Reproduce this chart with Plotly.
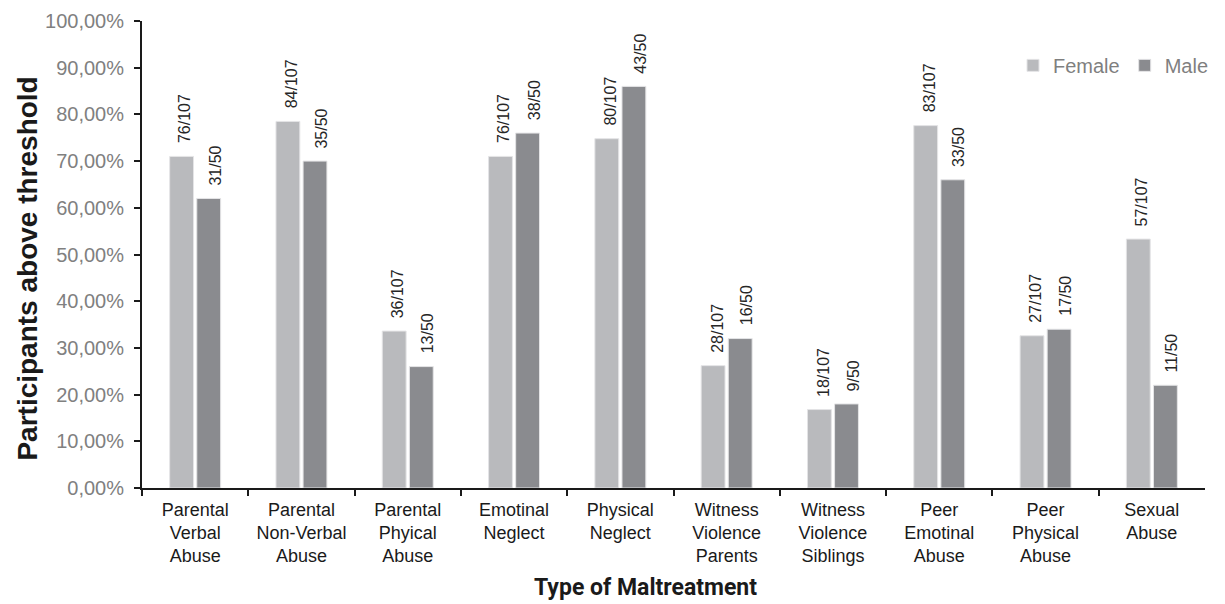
import plotly.graph_objects as go

categories = ["Parental<br>Verbal<br>Abuse", "Parental<br>Non-Verbal<br>Abuse", "Parental<br>Phyical<br>Abuse",
              "Emotinal<br>Neglect", "Physical<br>Neglect", "Witness<br>Violence<br>Parents",
              "Witness<br>Violence<br>Siblings", "Peer<br>Emotinal<br>Abuse", "Peer<br>Physical<br>Abuse",
              "Sexual<br>Abuse"]
female_pct = [71.0, 78.5, 33.6, 71.0, 74.8, 26.2, 16.8, 77.6, 32.6, 53.3]
male_pct = [62.0, 70.0, 26.0, 76.0, 86.0, 32.0, 18.0, 66.0, 34.0, 22.0]
female_labels = ["76/107", "84/107", "36/107", "76/107", "80/107", "28/107", "18/107", "83/107", "27/107", "57/107"]
male_labels = ["31/50", "35/50", "13/50", "38/50", "43/50", "16/50", "9/50", "33/50", "17/50", "11/50"]
y_ticks = list(range(0, 101, 10))
y_ticktext = [f"{v},00%" for v in y_ticks]
x_title = "Type of Maltreatment"
y_title = "Participants above threshold"

FEMALE = "#b9babd"
MALE = "#8a8b8f"
FONT = "Liberation Sans, Arial, sans-serif"

fig = go.Figure()
fig.add_trace(go.Bar(name="Female", x=categories, y=female_pct, marker=dict(color=FEMALE, line=dict(color="#e4e4e6", width=1))))
fig.add_trace(go.Bar(name="Male", x=categories, y=male_pct, marker=dict(color=MALE, line=dict(color="#e4e4e6", width=1))))

for cat, fv, mv, fl, ml in zip(categories, female_pct, male_pct, female_labels, male_labels):
    fig.add_annotation(x=cat, y=fv, text=fl, textangle=-90, showarrow=False, xanchor="center", yanchor="bottom",
                       xshift=-10, yshift=11, font=dict(family=FONT, size=16, color="#262626"))
    fig.add_annotation(x=cat, y=mv, text=ml, textangle=-90, showarrow=False, xanchor="center", yanchor="bottom",
                       xshift=20, yshift=11, font=dict(family=FONT, size=16, color="#262626"))

# axis titles
fig.add_annotation(xref="paper", yref="paper", x=0.470, y=-0.214, xanchor="center", yanchor="middle",
                   text=f"<b>{x_title}</b>", showarrow=False,
                   font=dict(family="Roboto, sans-serif", size=23, color="#1a1a1a"))
fig.add_annotation(xref="paper", yref="paper", x=-0.1072, y=0.47, xanchor="center", yanchor="middle",
                   text=f"<b>{y_title}</b>", textangle=-90, showarrow=False,
                   font=dict(family=FONT, size=28, color="#1a1a1a"))

fig.update_layout(
    width=1225, height=604,
    margin=dict(l=142, r=11, t=21, b=116),
    paper_bgcolor="white", plot_bgcolor="white",
    barmode="group", bargap=0.49, bargroupgap=0.12,
    font=dict(family=FONT),
    legend=dict(orientation="h", x=1.0, xanchor="right", y=0.905, yanchor="middle",
                font=dict(family=FONT, size=20, color="#7f7f7f"), itemwidth=30, traceorder="normal",
                bgcolor="rgba(0,0,0,0)"),
    xaxis=dict(domain=[0, 0.9916], showline=True, linecolor="#1a1a1a", linewidth=2, ticks="outside", tickson="boundaries",
               ticklen=6, tickwidth=2, tickcolor="#1a1a1a", tickfont=dict(family=FONT, size=18, color="#1a1a1a"),
               ticklabelstandoff=4, automargin=False,
               showgrid=False, zeroline=False),
    yaxis=dict(range=[0, 100], tickvals=y_ticks, ticktext=y_ticktext, showline=True, linecolor="#1a1a1a",
               linewidth=2, ticks="outside", ticklen=6, tickwidth=2, tickcolor="#1a1a1a", ticklabelstandoff=6,
               tickfont=dict(family=FONT, size=20, color="#808080"), showgrid=False, zeroline=False,
               automargin=False),
)

fig.write_html("out.html")
